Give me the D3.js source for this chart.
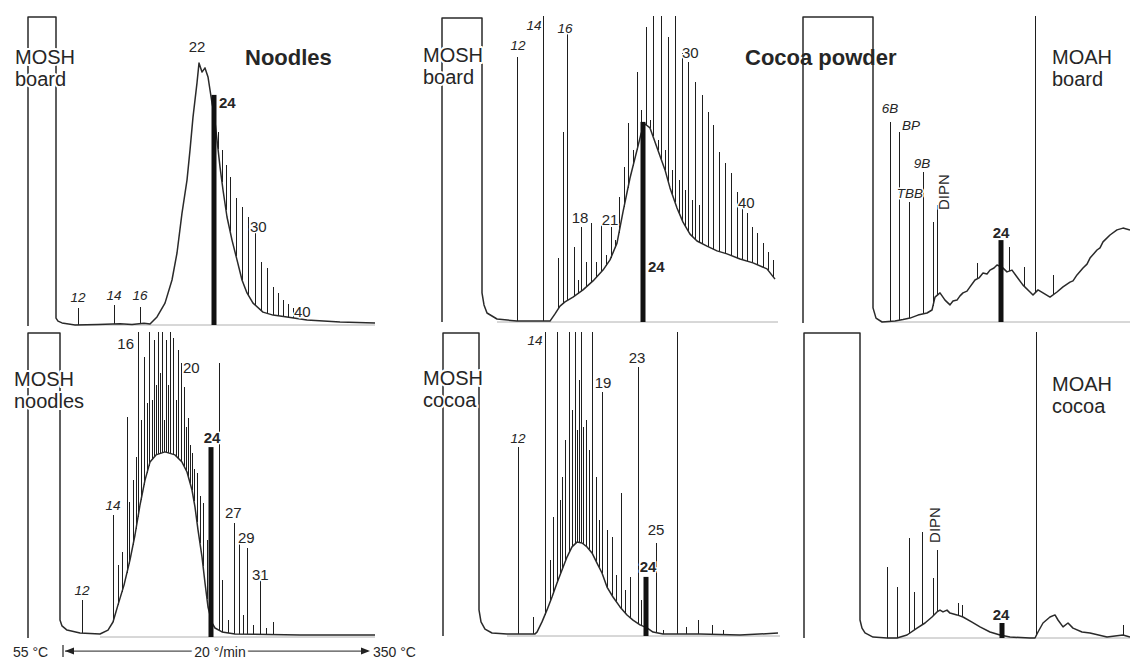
<!DOCTYPE html>
<html><head><meta charset="utf-8">
<script src="https://cdn.jsdelivr.net/npm/d3@7"></script>
<style>
body{margin:0;background:#fff}
svg{display:block}
text{font-family:"Liberation Sans",Arial,Helvetica,sans-serif;fill:#262626}
</style>
</head><body>
<svg id="chart" width="1130" height="659"></svg>
<script>
// ---------- DATA (retention time in min, signal in % of full scale) ----------
// Panel 1: MOSH board (noodles)
const p1Trace = [[0,-0.3],[0,102.7],[1.4,102.7],[1.4,2.3],[1.5,1.3],[1.7,0.7],[2.35,0],[3.5,0.2],[4.6,0.4],[5.2,0.2],[5.8,0.6],[6.1,0.3],[6.45,2.7],[6.85,7.3],[7.2,15],[7.45,24],[7.7,37.3],[7.95,48.3],[8.1,58.3],[8.25,69.3],[8.45,80.7],[8.55,87.3],[8.7,84.3],[8.85,85.7],[9.0,82.7],[9.2,74],[9.3,70.7],[9.45,61.7],[9.6,52.7],[9.75,45],[9.95,36],[10.2,28.3],[10.45,21.7],[10.7,15],[10.95,10.7],[11.25,7.3],[11.75,4.3],[12.25,3.3],[12.95,2.7],[13.95,1.7],[15.6,1],[17.35,0.7]];
const p1Peaks = [[2.5,5.7],[4.3,6.7],[5.6,6],[9.5,64.3],[9.7,58.3],[9.9,53.3],[10.1,49.3],[10.4,42.3],[10.7,39.3],[11.0,36],[11.35,32.3],[11.65,21],[11.95,19],[12.25,12.7],[12.5,10.7],[12.75,8.3],[13.0,7],[13.25,5.7],[13.5,4.3]];
const p1Bar = [9.3,76.7];
const p1Labels = [
  {text:"22",t:8.45,s:91,a:"middle"},{text:"24",t:9.55,s:72.3,a:"start",b:1},
  {text:"30",t:11.1,s:31,a:"start"},{text:"40",t:13.3,s:2.7,a:"start"},
  {text:"12",t:2.5,s:7.7,a:"middle",i:1},{text:"14",t:4.3,s:8.3,a:"middle",i:1},{text:"16",t:5.6,s:8.3,a:"middle",i:1}];
const p1Titles = [{text:"MOSH",t:-0.65,s:87},{text:"board",t:-0.65,s:79.7},{text:"Noodles",t:10.85,s:86.7,b:1}];

// Panel 2: MOSH board (cocoa powder)
const p2Trace = [[0.1,0],[0.1,101.3],[2.1,101.3],[2.1,9.7],[2.2,5.7],[2.35,3],[2.85,1],[3.85,0.3],[5.5,0.3],[5.75,2.7],[6.0,5.3],[6.25,6.7],[6.65,8.3],[7.15,10.7],[7.65,13.7],[8.15,17.3],[8.5,20.7],[8.85,26.3],[9.15,36.7],[9.5,48],[9.85,57.3],[10.05,62.7],[10.25,66],[10.5,64.7],[10.75,60],[11.0,55.3],[11.25,50.7],[11.5,44.7],[11.85,38],[12.15,33.3],[12.5,29.3],[12.85,27],[13.35,25.3],[13.85,23.7],[14.35,22.7],[15.0,21],[15.65,19.7],[16.35,17.7],[16.75,14.3]];
const p2Peaks = [[3.85,88.3],[5.15,105],[5.9,21.3],[6.15,63.3],[6.35,96.7],[6.7,25],[6.9,14],[7.05,31.7],[7.3,20],[7.55,33],[7.8,20],[8.05,32.3],[8.3,22.3],[8.55,31.7],[8.75,27.3],[8.95,41.7],[9.2,51.7],[9.4,66.3],[9.65,57.3],[9.85,83.3],[10.05,70.7],[10.3,98.3],[10.5,67.3],[10.65,105],[10.9,60.7],[11.05,105],[11.25,57.3],[11.4,95],[11.6,50.7],[11.75,105],[11.95,47.3],[12.1,89.7],[12.25,44],[12.4,86.7],[12.6,40.7],[12.75,80],[12.95,39],[13.1,75.7],[13.4,70],[13.65,65.7],[13.95,56.7],[14.25,53],[14.55,49.7],[14.85,43.3],[15.1,40.7],[15.35,36.3],[15.6,31.7],[15.85,29.7],[16.15,26.3],[16.4,23.3],[16.65,20.7]];
const p2Bar = [10.15,66.7];
const p2Labels = [
  {text:"12",t:3.9,s:90.7,a:"middle",i:1},{text:"14",t:4.7,s:97.3,a:"middle",i:1},{text:"16",t:6.25,s:96.3,a:"middle",i:1},
  {text:"18",t:7.0,s:33,a:"middle"},{text:"21",t:8.5,s:32.3,a:"middle"},{text:"24",t:10.4,s:16.7,a:"start",b:1},
  {text:"30",t:12.1,s:88,a:"start"},{text:"40",t:14.9,s:38,a:"start"}];
const p2Titles = [{text:"MOSH",t:-0.85,s:86.7},{text:"board",t:-0.85,s:79.3},{text:"Cocoa powder",t:15.25,s:85.7,b:1}];

// Panel 3: MOAH board
const p3Trace = [[0,-0.3],[0,101.7],[3.5,101.7],[3.5,4.7],[3.65,1.3],[3.95,0],[4.6,0.3],[5.0,0.8],[5.35,1.3],[5.75,2.3],[6.2,3],[6.45,4],[6.6,8.3],[6.85,9.7],[7.1,7.3],[7.35,5.7],[7.5,7],[7.7,7.3],[7.85,8.7],[8.0,9.7],[8.2,10.3],[8.35,11.7],[8.6,14],[8.8,14.7],[9.0,16.3],[9.2,16],[9.35,17.3],[9.55,18],[9.7,19],[9.95,18.3],[10.2,16.7],[10.45,17.3],[10.7,15],[11.0,12.3],[11.35,10],[11.5,9],[11.75,10.7],[12.0,9.7],[12.35,8.3],[12.7,10],[13.0,11.7],[13.35,13.3],[13.5,13.7],[13.7,15.7],[14.0,18],[14.2,19.3],[14.35,21.3],[14.7,24],[14.85,24.7],[15.0,26.7],[15.35,29],[15.7,30.7],[16.0,31.3],[16.35,30.7]];
const p3Peaks = [[4.35,66.7],[4.8,63.3],[5.3,40],[6.0,50],[6.5,33.3],[6.7,39],[8.7,19.7],[10.3,25],[11.05,18.3],[11.6,105],[12.5,15.7]];
const p3Bar = [9.9,27.3];
const p3Labels = [
  {text:"6B",t:4.35,s:69.7,a:"middle",i:1},{text:"BP",t:5.4,s:64,a:"middle",i:1},
  {text:"9B",t:5.95,s:51.3,a:"middle",i:1},{text:"TBB",t:5.35,s:41.3,a:"middle",i:1},
  {text:"DIPN",t:7.3,s:37.3,a:"start",r:1},{text:"24",t:9.9,s:28,a:"middle",b:1}];
const p3Titles = [{text:"MOAH",t:12.45,s:86},{text:"board",t:12.45,s:78.7}];

// Panel 4: MOSH noodles
const p4Trace = [[0,-0.3],[0,101.3],[1.6,101.3],[1.6,5.7],[1.7,3.7],[1.95,2.3],[2.6,1.3],[3.6,1],[4.0,2.3],[4.25,5],[4.5,10.7],[4.8,17.3],[5.1,25.7],[5.35,34],[5.6,44],[5.85,52.3],[6.1,58.3],[6.4,60.7],[6.85,61.7],[7.35,60.7],[7.7,58.3],[7.95,55],[8.2,49],[8.35,43.3],[8.5,35.7],[8.7,26.7],[8.85,18],[9.0,10],[9.2,4.7],[9.35,3],[9.7,1.7],[10.35,1],[13.6,0.7],[17.35,0.7]];
const p4Peaks = [[2.7,12.3],[4.25,40.7],[4.5,24],[4.7,28.3],[4.95,73.3],[5.05,45],[5.25,52.3],[5.4,60],[5.5,105],[5.65,72.3],[5.8,93.3],[5.95,78],[6.05,105],[6.2,79],[6.3,99],[6.4,84],[6.5,105],[6.6,88],[6.7,105],[6.8,72.3],[6.9,99],[7.0,84],[7.1,105],[7.25,99.7],[7.4,79],[7.5,95.7],[7.65,91.3],[7.8,83.3],[7.9,70],[8.0,73],[8.1,64],[8.2,61.3],[8.3,56],[8.45,54.7],[8.6,47],[8.75,44.7],[8.95,32.3],[9.55,91.3],[9.7,19],[10.0,5.7],[10.3,38],[10.55,31.3],[10.75,7.3],[10.95,29.7],[11.25,4],[11.6,20.7],[11.9,3],[12.25,5]];
const p4Bar = [9.15,63.3];
const p4Labels = [
  {text:"16",t:5.3,s:96,a:"end"},{text:"20",t:7.75,s:88,a:"start"},{text:"24",t:9.2,s:64.7,a:"middle",b:1},
  {text:"14",t:4.25,s:42.3,a:"middle",i:1},{text:"12",t:2.7,s:14,a:"middle",i:1},
  {text:"27",t:9.85,s:39.7,a:"start"},{text:"29",t:10.5,s:31.3,a:"start"},{text:"31",t:11.2,s:19,a:"start"}];
const p4Titles = [{text:"MOSH",t:-0.7,s:83.7},{text:"noodles",t:-0.7,s:76.3}];

// Panel 5: MOSH cocoa
const p5Trace = [[0.15,0],[0.15,101],[1.95,101],[1.95,8.7],[2.05,4.7],[2.25,2.3],[2.6,1],[3.35,0.7],[4.75,0.7],[4.85,1.3],[5.1,4.7],[5.35,8.7],[5.6,13],[5.85,17.7],[6.1,22],[6.35,26.3],[6.6,29.7],[6.85,31.3],[7.1,31],[7.35,29.7],[7.6,27.7],[7.85,24.3],[8.1,21],[8.35,16.3],[8.65,13],[9.0,9.7],[9.35,7],[9.65,5.3],[10.0,3.7],[10.35,2.7],[10.65,1.3],[11.15,0.7],[13.0,0.7],[15.0,0.3],[16.9,1]];
const p5Peaks = [[3.9,63],[4.65,6.3],[5.25,105],[5.5,25.3],[5.65,39.7],[5.85,105],[6.0,45.3],[6.1,53],[6.25,65.3],[6.45,105],[6.6,75.3],[6.75,105],[6.85,68.7],[6.95,85.3],[7.05,105],[7.15,69.7],[7.3,72],[7.45,62],[7.6,105],[7.8,53],[7.95,38.7],[8.1,81.3],[8.35,35.3],[8.6,33],[8.8,20.3],[9.05,47.7],[9.25,15.3],[9.5,19.7],[9.9,89.7],[10.05,12],[10.8,31],[11.15,2],[11.85,105],[12.3,3],[12.9,5.3],[13.6,3.7],[14.15,2]];
const p5Bar = [10.3,19.7];
const p5Labels = [
  {text:"14",t:4.75,s:97,a:"middle",i:1},{text:"12",t:3.9,s:64.3,a:"middle",i:1},
  {text:"19",t:8.15,s:82.7,a:"middle"},{text:"23",t:9.85,s:91,a:"middle"},
  {text:"25",t:10.8,s:33.7,a:"middle"},{text:"24",t:10.4,s:21.3,a:"middle",b:1}];
const p5Titles = [{text:"MOSH",t:-0.85,s:83.7},{text:"cocoa",t:-0.85,s:76.3}];

// Panel 6: MOAH cocoa
const p6Trace = [[0.05,0],[0.05,101.7],[2.85,101.7],[2.85,6],[2.95,3.3],[3.1,1.7],[3.5,0.3],[4.2,0],[4.7,0],[5.2,1],[5.7,3.3],[6.1,5],[6.45,7],[6.7,8.7],[6.85,9.3],[7.0,8.7],[7.2,9.3],[7.35,8.3],[7.7,7.7],[8.0,7],[8.45,5.3],[8.85,3.7],[9.35,2],[9.85,1],[10.35,0.3],[11.35,0],[11.6,0],[11.75,2],[12.0,5],[12.35,7],[12.6,7.7],[12.75,6],[13.0,3.7],[13.25,5],[13.5,3.3],[13.95,2],[14.35,1.7],[15.2,0.3],[16.0,1],[16.35,0.3]];
const p6Peaks = [[4.2,23.7],[4.7,17],[5.3,33.3],[5.55,15.3],[5.95,35.3],[6.5,20],[6.7,29.3],[7.75,11.7],[7.95,11],[11.65,105],[16.0,4.3]];
const p6Bar = [9.95,5];
const p6Labels = [{text:"DIPN",t:6.85,s:31.7,a:"start",r:1},{text:"24",t:9.9,s:6,a:"middle",b:1}];
const p6Titles = [{text:"MOAH",t:12.45,s:82.3},{text:"cocoa",t:12.45,s:75}];

// Baseline spans (retention time range of the flat baseline)
const spans = [[2.35,17.35],[2.85,16.9],[3.95,16.35],[3.6,17.35],[3.35,17.0],[4.2,16.35]];

// Temperature programme annotation (retention time)
const tempLabels = {start:"55 °C", rate:"20 °/min", end:"350 °C"};
const tempTimes = {label:-0.75, from:1.75, to:17.1, rate:9.6, endLabel:17.25};

// ---------- LAYOUT ----------
const cols = [{x0:28,clip:[0,388]},{x0:440,clip:[392,796]},{x0:803,clip:[797,1130]}];
const rows = [{top:16,bottom:331},{top:332,bottom:659}];
const panels = [
  {col:0,row:0,base:325,trace:p1Trace,peaks:p1Peaks,bar:p1Bar,labels:p1Labels,titles:p1Titles},
  {col:1,row:0,base:322,trace:p2Trace,peaks:p2Peaks,bar:p2Bar,labels:p2Labels,titles:p2Titles},
  {col:2,row:0,base:322,trace:p3Trace,peaks:p3Peaks,bar:p3Bar,labels:p3Labels,titles:p3Titles},
  {col:0,row:1,base:637,trace:p4Trace,peaks:p4Peaks,bar:p4Bar,labels:p4Labels,titles:p4Titles},
  {col:1,row:1,base:636,trace:p5Trace,peaks:p5Peaks,bar:p5Bar,labels:p5Labels,titles:p5Titles},
  {col:2,row:1,base:638,trace:p6Trace,peaks:p6Peaks,bar:p6Bar,labels:p6Labels,titles:p6Titles}
];

const svg = d3.select("#chart");
const defs = svg.append("defs");

function envAt(trace, t){
  for(let i=0;i<trace.length-1;i++){
    const a=trace[i], b=trace[i+1];
    if(b[0]>a[0] && t>=a[0] && t<=b[0]) return a[1]+(b[1]-a[1])*(t-a[0])/(b[0]-a[0]);
  }
  return 0;
}

panels.forEach((p,k)=>{
  const c = cols[p.col], r = rows[p.row];
  const x = d3.scaleLinear().domain([0,17.5]).range([c.x0, c.x0+350]);
  const y = d3.scaleLinear().domain([0,100]).range([p.base, p.base-300]);
  const cid = "clip"+k;
  defs.append("clipPath").attr("id",cid).append("rect")
    .attr("x",c.clip[0]).attr("y",r.top).attr("width",c.clip[1]-c.clip[0]).attr("height",r.bottom-r.top);
  const g = svg.append("g").attr("clip-path",`url(#${cid})`);

  // flat baseline
  g.append("line").attr("x1",x(spans[k][0])).attr("x2",x(spans[k][1]))
    .attr("y1",y(0)).attr("y2",y(0)).attr("stroke","#b0b0b0").attr("stroke-width",1);

  // peaks
  g.selectAll("line.pk").data(p.peaks).join("line").attr("class","pk")
    .attr("x1",d=>x(d[0])).attr("x2",d=>x(d[0]))
    .attr("y1",d=>y(envAt(p.trace,d[0]))).attr("y2",d=>y(d[1]))
    .attr("stroke","#1e1e1e").attr("stroke-width",1).attr("shape-rendering","crispEdges");

  // trace envelope
  g.append("path").datum(p.trace)
    .attr("d",d3.line().x(d=>x(d[0])).y(d=>y(d[1])))
    .attr("fill","none").attr("stroke","#2a2a2a").attr("stroke-width",1.5).attr("stroke-linejoin","round");

  // C24 marker bar
  g.append("rect").attr("x",x(p.bar[0])-2.5).attr("width",5)
    .attr("y",y(p.bar[1])).attr("height",y(0)-y(p.bar[1])).attr("fill","#111");

  // labels
  const lg = svg.append("g");
  p.labels.forEach(l=>{
    const tx = lg.append("text").text(l.text)
      .attr("text-anchor",l.a)
      .attr("font-size", l.r?15:(l.i?13.5:15))
      .attr("font-weight",l.b?"bold":"normal")
      .attr("font-style",l.i?"italic":"normal")
      .attr("stroke","#fff").attr("stroke-width",3).attr("paint-order","stroke")
      .attr("stroke-linejoin","round");
    if(l.r) tx.attr("transform",`translate(${x(l.t)},${y(l.s)}) rotate(-90)`);
    else tx.attr("x",x(l.t)).attr("y",y(l.s));
  });
  p.titles.forEach(l=>{
    lg.append("text").text(l.text).attr("x",x(l.t)).attr("y",y(l.s))
      .attr("font-size",l.b?22:20).attr("font-weight",l.b?"bold":"normal")
      .attr("stroke","#fff").attr("stroke-width",4).attr("paint-order","stroke").attr("stroke-linejoin","round");
  });

  // temperature programme below panel 4
  if(k===3){
    const ay = y(-4.7), ty = y(-6.7);
    const ag = svg.append("g");
    ag.append("line").attr("x1",x(tempTimes.from)).attr("x2",x(tempTimes.from))
      .attr("y1",ay-6).attr("y2",ay+6).attr("stroke","#222").attr("stroke-width",1.2);
    ag.append("line").attr("x1",x(tempTimes.from)+2).attr("x2",x(tempTimes.to)-2)
      .attr("y1",ay).attr("y2",ay).attr("stroke","#222").attr("stroke-width",1);
    const lx = x(tempTimes.from)+2, rx = x(tempTimes.to);
    ag.append("path").attr("d",`M${lx},${ay}L${lx+9},${ay-3.5}L${lx+9},${ay+3.5}Z`).attr("fill","#222");
    ag.append("path").attr("d",`M${rx},${ay}L${rx-9},${ay-3.5}L${rx-9},${ay+3.5}Z`).attr("fill","#222");
    ag.append("text").text(tempLabels.start).attr("x",x(tempTimes.label)).attr("y",ty).attr("font-size",14);
    ag.append("text").text(tempLabels.rate).attr("x",x(tempTimes.rate)).attr("y",ty).attr("font-size",14)
      .attr("text-anchor","middle").attr("stroke","#fff").attr("stroke-width",6).attr("paint-order","stroke");
    ag.append("text").text(tempLabels.end).attr("x",x(tempTimes.endLabel)).attr("y",ty).attr("font-size",14);
  }
});
</script>
</body></html>
